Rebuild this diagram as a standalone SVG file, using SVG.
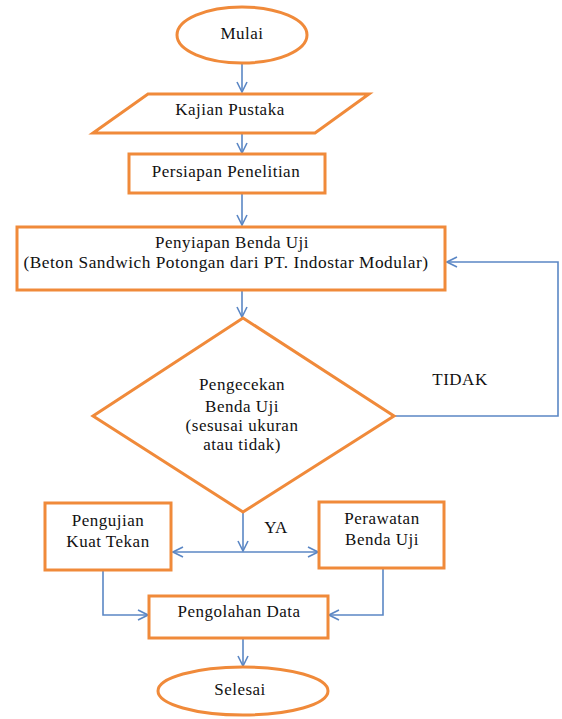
<svg xmlns="http://www.w3.org/2000/svg" width="562" height="719" viewBox="0 0 562 719">
<style>
.n{fill:#fff;stroke:#F08A3A;stroke-width:3}
.t{font-family:"Liberation Serif","Times New Roman",serif;font-size:17px;fill:#111;text-anchor:middle;letter-spacing:0.5px}
.c{fill:none;stroke:#5B87C5;stroke-width:1.6}
</style>
<defs>
<marker id="a" viewBox="0 0 12 12" refX="11" refY="6" markerWidth="12" markerHeight="12" markerUnits="userSpaceOnUse" orient="auto">
<path d="M1,1 L11,6 L1,11" fill="none" stroke="#5B87C5" stroke-width="1.6"/>
</marker>
</defs>
<rect width="562" height="719" fill="#fff"/>
<g id="connectors" class="c">
<path d="M242,63 V92" marker-end="url(#a)"/>
<path d="M242,133 V153" marker-end="url(#a)"/>
<path d="M242,193 V225" marker-end="url(#a)"/>
<path d="M242,290 V317" marker-end="url(#a)"/>
<path d="M394,416 H558 V262 H447" marker-end="url(#a)"/>
<path d="M243,512 V551" marker-end="url(#a)"/>
<path d="M243,552 H173" marker-end="url(#a)"/>
<path d="M243,552 H318" marker-end="url(#a)"/>
<path d="M103,570 V615 H148" marker-end="url(#a)"/>
<path d="M383,568 V615 H329" marker-end="url(#a)"/>
<path d="M243,638 V666" marker-end="url(#a)"/>
</g>
<g id="mulai"><ellipse class="n" cx="242" cy="35" rx="65" ry="28"/><text class="t" x="242" y="39">Mulai</text></g>
<g id="kajian"><polygon class="n" points="148,94 369,94 315,133 93,133"/><text class="t" x="230" y="115">Kajian Pustaka</text></g>
<g id="persiapan"><rect class="n" x="129" y="154" width="196" height="39"/><text class="t" x="226" y="177">Persiapan Penelitian</text></g>
<g id="penyiapan"><rect class="n" x="17" y="227" width="428" height="63"/><text class="t" x="232" y="248">Penyiapan Benda Uji</text><text class="t" x="226" y="268" textLength="405" lengthAdjust="spacingAndGlyphs">(Beton Sandwich Potongan dari PT. Indostar Modular)</text></g>
<g id="pengecekan"><polygon class="n" points="243,318 394,416 243,512 93,416"/><text class="t" x="242" y="390">Pengecekan</text><text class="t" x="242" y="412">Benda Uji</text><text class="t" x="242" y="431">(sesusai ukuran</text><text class="t" x="242" y="450">atau tidak)</text></g>
<g id="tidak"><text class="t" x="460" y="385">TIDAK</text></g>
<g id="ya"><text class="t" x="276" y="533">YA</text></g>
<g id="pengujian"><rect class="n" x="45" y="503" width="126" height="67"/><text class="t" x="108" y="526">Pengujian</text><text class="t" x="108" y="547">Kuat Tekan</text></g>
<g id="perawatan"><rect class="n" x="319" y="502" width="125" height="66"/><text class="t" x="382" y="524">Perawatan</text><text class="t" x="382" y="545">Benda Uji</text></g>
<g id="pengolahan"><rect class="n" x="149" y="596" width="179" height="42"/><text class="t" x="239" y="617">Pengolahan Data</text></g>
<g id="selesai"><ellipse class="n" cx="243" cy="691" rx="85" ry="24"/><text class="t" x="240" y="695">Selesai</text></g>
</svg>
